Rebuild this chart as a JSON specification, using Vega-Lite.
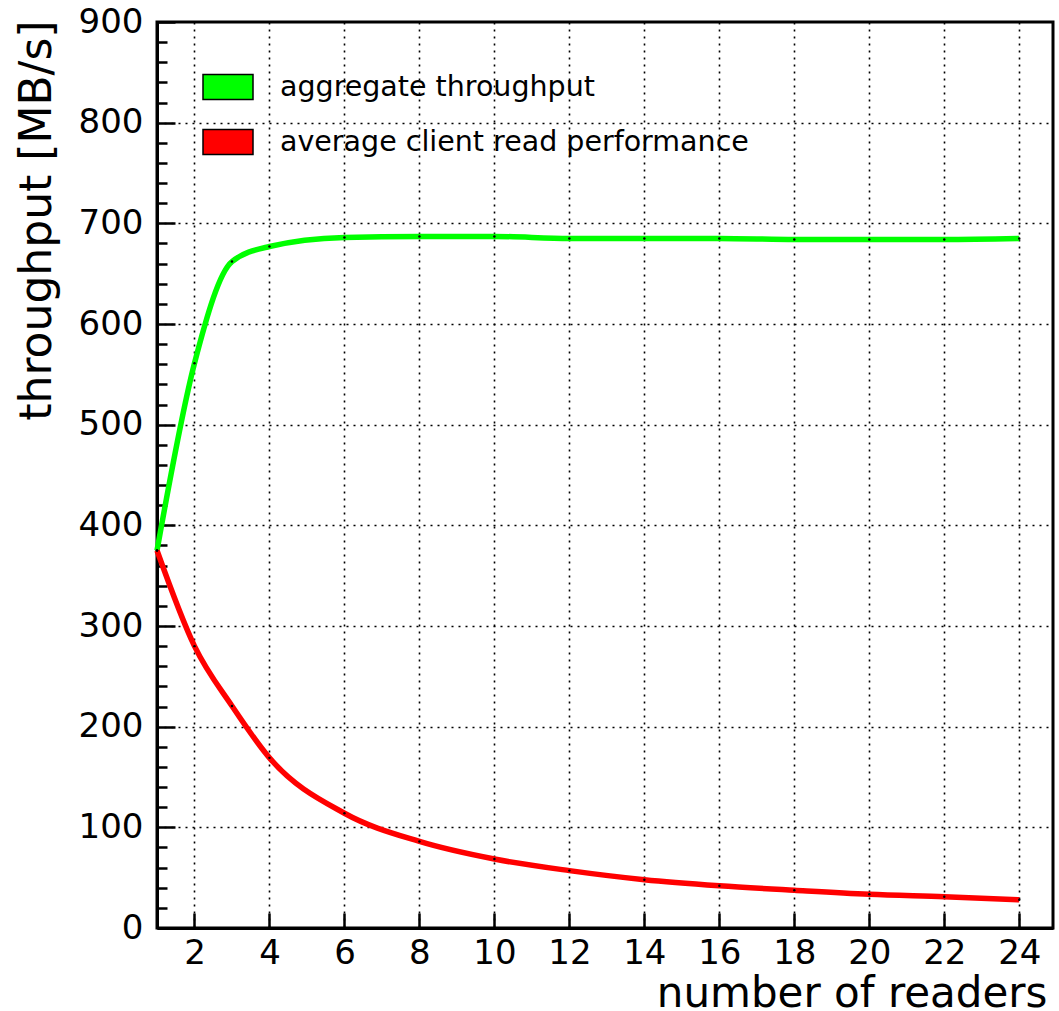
{
  "$schema": "https://vega.github.io/schema/vega-lite/v6.json",
  "autosize": "none",
  "padding": {"left": 157, "top": 22, "right": 6, "bottom": 83},
  "width": 896,
  "height": 906,
  "background": "white",
  "config": {
    "view": {"stroke": "black", "strokeWidth": 3},
    "font": "DejaVu Sans"
  },
  "data": {
    "values": [
      {"readers": 1, "throughput": 375, "series": "aggregate throughput"},
      {"readers": 2, "throughput": 561, "series": "aggregate throughput"},
      {"readers": 3, "throughput": 662, "series": "aggregate throughput"},
      {"readers": 4, "throughput": 677, "series": "aggregate throughput"},
      {"readers": 6, "throughput": 686, "series": "aggregate throughput"},
      {"readers": 8, "throughput": 687, "series": "aggregate throughput"},
      {"readers": 10, "throughput": 687, "series": "aggregate throughput"},
      {"readers": 12, "throughput": 685, "series": "aggregate throughput"},
      {"readers": 14, "throughput": 685, "series": "aggregate throughput"},
      {"readers": 16, "throughput": 685, "series": "aggregate throughput"},
      {"readers": 18, "throughput": 684, "series": "aggregate throughput"},
      {"readers": 20, "throughput": 684, "series": "aggregate throughput"},
      {"readers": 22, "throughput": 684, "series": "aggregate throughput"},
      {"readers": 24, "throughput": 685, "series": "aggregate throughput"},
      {"readers": 1, "throughput": 375, "series": "average client read performance"},
      {"readers": 2, "throughput": 280, "series": "average client read performance"},
      {"readers": 3, "throughput": 220.5, "series": "average client read performance"},
      {"readers": 4, "throughput": 169, "series": "average client read performance"},
      {"readers": 6, "throughput": 114, "series": "average client read performance"},
      {"readers": 8, "throughput": 86, "series": "average client read performance"},
      {"readers": 10, "throughput": 68.5, "series": "average client read performance"},
      {"readers": 12, "throughput": 57, "series": "average client read performance"},
      {"readers": 14, "throughput": 48, "series": "average client read performance"},
      {"readers": 16, "throughput": 42, "series": "average client read performance"},
      {"readers": 18, "throughput": 37.5, "series": "average client read performance"},
      {"readers": 20, "throughput": 33.5, "series": "average client read performance"},
      {"readers": 22, "throughput": 31, "series": "average client read performance"},
      {"readers": 24, "throughput": 28, "series": "average client read performance"}
    ]
  },
  "encoding": {
    "x": {
      "field": "readers",
      "type": "quantitative",
      "scale": {"domain": [1, 24.9], "nice": false, "zero": false},
      "axis": {
        "values": [2, 4, 6, 8, 10, 12, 14, 16, 18, 20, 22, 24],
        "title": "number of readers",
        "titleFont": "DejaVu Sans",
        "titleFontSize": 42,
        "titleFontWeight": "normal",
        "titleColor": "black",
        "titleX": 890,
        "titleY": 78,
        "titleAlign": "right",
        "titleBaseline": "alphabetic",
        "domainColor": "black",
        "domainWidth": 3,
        "tickColor": "black",
        "tickWidth": 2.5,
        "tickSize": -15,
        "labelFont": "DejaVu Sans",
        "labelFontSize": 34,
        "labelColor": "black",
        "labelPadding": 23,
        "labelOverlap": false,
        "grid": true,
        "gridColor": "black",
        "gridDash": [2, 5],
        "gridWidth": 1.6,
        "gridOpacity": 1
      }
    },
    "y": {
      "field": "throughput",
      "type": "quantitative",
      "scale": {"domain": [0, 900], "nice": false},
      "axis": {
        "values": [0, 20, 40, 60, 80, 100, 120, 140, 160, 180, 200, 220, 240, 260, 280, 300, 320, 340, 360, 380, 400, 420, 440, 460, 480, 500, 520, 540, 560, 580, 600, 620, 640, 660, 680, 700, 720, 740, 760, 780, 800, 820, 840, 860, 880, 900],
        "labelExpr": "datum.value % 100 === 0 ? datum.label : ''",
        "title": "throughput [MB/s]",
        "titleFont": "DejaVu Sans",
        "titleFontSize": 44,
        "titleFontWeight": "normal",
        "titleColor": "black",
        "titleAngle": 270,
        "titleX": -107,
        "titleY": -2,
        "titleAlign": "right",
        "titleBaseline": "alphabetic",
        "domainColor": "black",
        "domainWidth": 3,
        "tickColor": "black",
        "tickWidth": 2.5,
        "tickSize": {"condition": {"test": "datum.value % 100 === 0", "value": -18}, "value": -10},
        "labelFont": "DejaVu Sans",
        "labelFontSize": 34,
        "labelColor": "black",
        "labelPadding": 32,
        "labelOverlap": false,
        "labelBaseline": "middle",
        "grid": true,
        "gridColor": "black",
        "gridDash": [2, 5],
        "gridWidth": 1.6,
        "gridOpacity": {"condition": {"test": "datum.value % 100 === 0 && datum.value > 0 && datum.value < 900", "value": 1}, "value": 0}
      }
    }
  },
  "layer": [
    {
      "mark": {"type": "line", "strokeWidth": 5.5, "interpolate": "monotone"},
      "encoding": {
        "stroke": {
          "field": "series",
          "type": "nominal",
          "scale": {"range": ["#00ff00", "#ff0000"]},
          "legend": null
        }
      }
    },
    {
      "mark": {"type": "point", "filled": true, "color": "black", "size": 6, "opacity": 1},
      "encoding": {}
    },
    {
      "mark": {"type": "point", "shape": "M-1,-0.5H1V0.5H-1Z", "filled": true, "stroke": "black", "strokeWidth": 1.5, "opacity": 0},
      "encoding": {
        "fill": {
          "field": "series",
          "type": "nominal",
          "scale": {"domain": ["aggregate throughput", "average client read performance"], "range": ["#00ff00", "#ff0000"]},
          "legend": {
            "orient": "none",
            "legendX": 45,
            "legendY": 39,
            "title": null,
            "padding": 0,
            "offset": 0,
            "symbolType": "M-1,-0.5H1V0.5H-1Z",
            "symbolSize": 2500,
            "symbolStrokeColor": "black",
            "symbolStrokeWidth": 1.5,
            "symbolOpacity": 1,
            "labelFont": "DejaVu Sans",
            "labelFontSize": 28.5,
            "labelColor": "black",
            "labelOffset": 26,
            "labelLimit": 0,
            "rowPadding": 13
          }
        }
      }
    }
  ]
}
